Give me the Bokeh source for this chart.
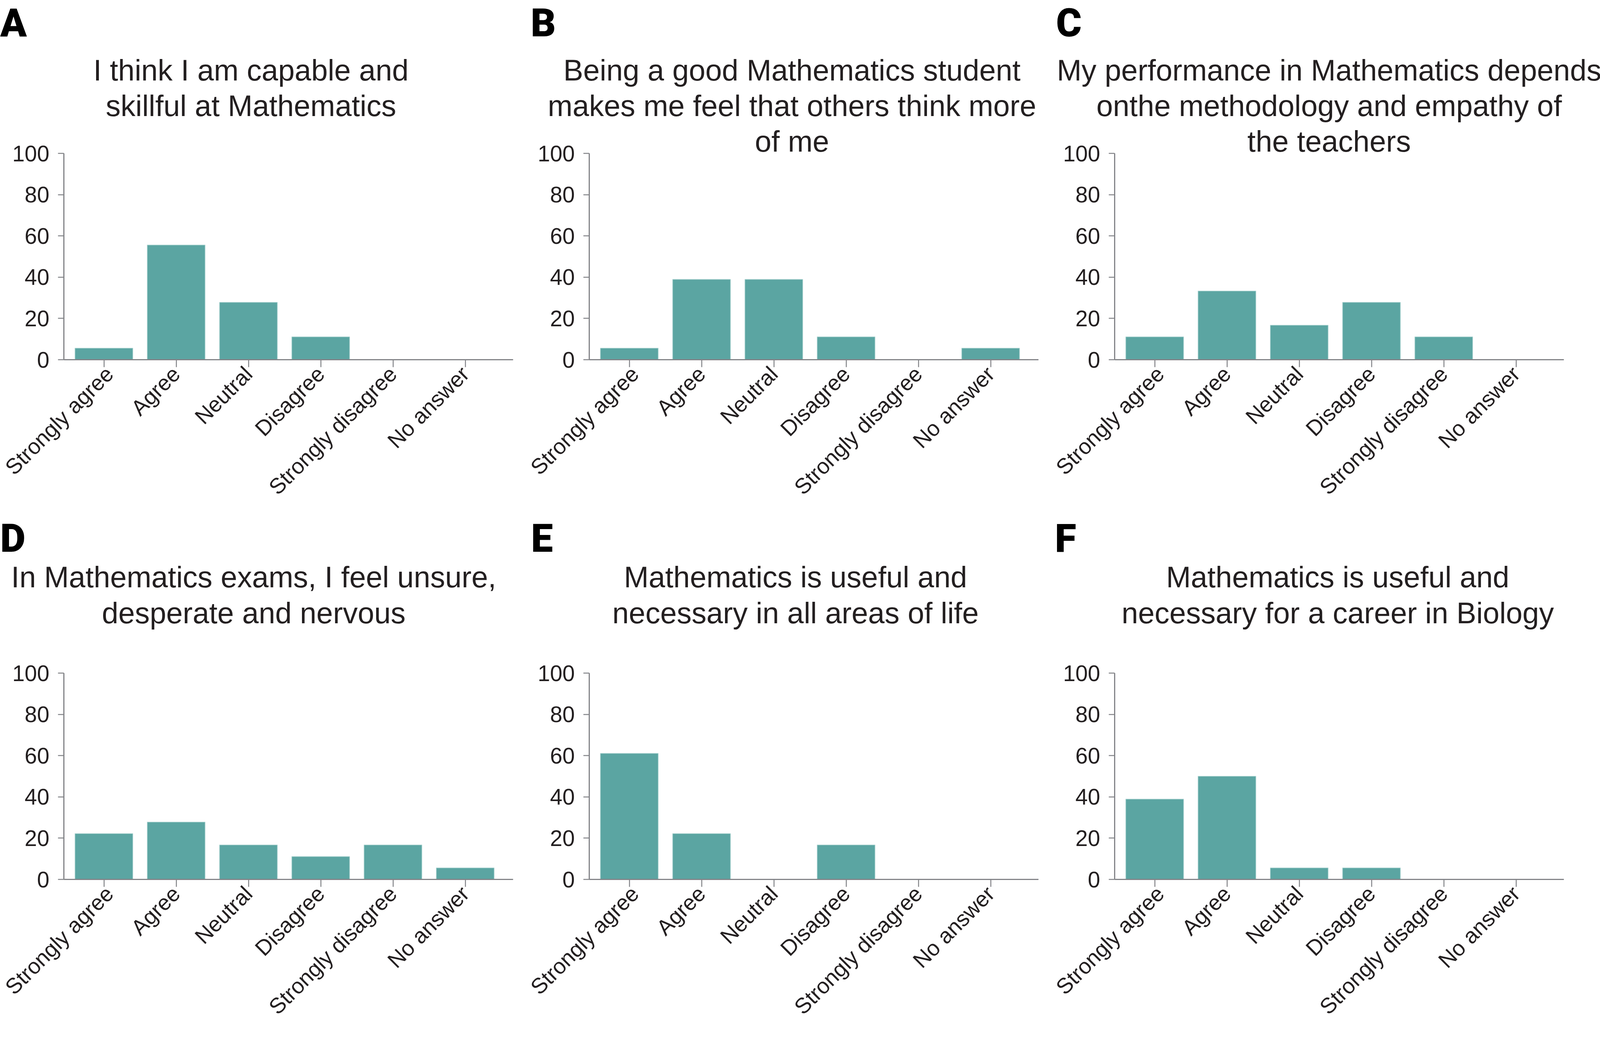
import math
import numpy as np
from bokeh.plotting import figure
from bokeh.models import Range1d, FixedTicker
from bokeh.layouts import column, row
from bokeh.core.properties import value
from bokeh.embed import file_html
from bokeh.resources import INLINE

# ---------------- data ----------------
categories = ["Strongly agree", "Agree", "Neutral", "Disagree", "Strongly disagree", "No answer"]
y_ticks = [0, 20, 40, 60, 80, 100]
letters = ["A", "B", "C", "D", "E", "F"]
titles = [
    ["I think I am capable and", "skillful at Mathematics"],
    ["Being a good Mathematics student", "makes me feel that others think more", "of me"],
    ["My performance in Mathematics depends", "onthe methodology and empathy of", "the teachers"],
    ["In Mathematics exams, I feel unsure,", "desperate and nervous"],
    ["Mathematics is useful and", "necessary in all areas of life"],
    ["Mathematics is useful and", "necessary for a career in Biology"],
]
values_a = [5.6, 55.6, 27.8, 11.1, 0.0, 0.0]
values_b = [5.6, 38.9, 38.9, 11.1, 0.0, 5.6]
values_c = [11.1, 33.3, 16.7, 27.8, 11.1, 0.0]
values_d = [22.2, 27.8, 16.7, 11.1, 16.7, 5.6]
values_e = [61.1, 22.2, 0.0, 16.7, 0.0, 0.0]
values_f = [38.9, 50.0, 5.6, 5.6, 0.0, 0.0]
all_values = [values_a, values_b, values_c, values_d, values_e, values_f]

# ---------------- style ----------------
BAR = "#5ba5a2"
EDGE = "#a9d2cf"
AXIS = "#838488"
TEXT = "#231f20"
FONT = "Liberation Sans"
HEAVY_FONT = "Roboto Black, Noto Sans ExtraBold, Open Sans ExtraBold, Lato Black, Liberation Sans"
TITLE_PX = 76
LETTER_PX = 100
BASE_SHIFT = 0.22   # bokeh draws "alphabetic" text this many em lower than asked

# ---------------- page geometry (px) ----------------
COL_X0 = [8, 1353, 2698]
COL_W = [1345, 1345, 1424]
MB_LEFT = 163
FRAME_W = 1150
CAT_PX = 185.0
PX_PER_UNIT = 5.28            # vertical px per 1 % on the y axis
XS = -0.5 - 10.0 / CAT_PX
XE = XS + FRAME_W / CAT_PX

# nominal row tops; "lag" = measured extra offset that the page adds before the row
ROWS = [
    dict(hdr_top=8, lag=0, main_top=321, y100=400, y0=928, bottom=1320),
    dict(hdr_top=1320, lag=11, main_top=1680, y100=1741, y0=2269, bottom=2656),
]
TITLE_BASE = [[204, 295, 386], [1512, 1604]]
TITLE_CX = [650, 2035, 3410, 657, 2044, 3432]
LETTER_X = [8, 1366, 2711, 8, 1367, 2708]
LETTER_BASE = [88, 1418]


def plain(p):
    p.grid.visible = False
    p.outline_line_color = None
    p.background_fill_color = "white"
    p.border_fill_color = "white"


def header(i_row, c):
    R = ROWS[i_row]
    w = COL_W[c]
    top = R["hdr_top"] + R["lag"]          # where the header really starts
    h = R["main_top"] - top
    p = figure(width=w, height=h, x_range=Range1d(0, w), y_range=Range1d(0, h),
               x_axis_location=None, y_axis_location=None, title=None,
               toolbar_location=None, output_backend="svg", min_border=0)
    plain(p)
    i = i_row * 3 + c
    x0 = COL_X0[c]
    xs, ys, ts = [], [], []
    for k, line in enumerate(titles[i]):
        base = TITLE_BASE[i_row][k] - BASE_SHIFT * TITLE_PX
        if TITLE_BASE[i_row][k] < R["main_top"]:
            xs.append(TITLE_CX[i] - x0)
            ys.append(h - (base - top))
            ts.append(line)
    p.text(x=xs, y=ys, text=ts, text_align="center", text_baseline="alphabetic",
           text_font=value(FONT), text_font_size=value(f"{TITLE_PX}px"), text_color=TEXT)
    lb = LETTER_BASE[i_row] - BASE_SHIFT * LETTER_PX
    p.text(x=[LETTER_X[i] - x0], y=[h - (lb - top)], text=[letters[i]],
           text_align="left", text_baseline="alphabetic", text_font=value(HEAVY_FONT),
           text_font_size=value(f"{LETTER_PX}px"), text_color="#000000")
    return p


def main(i_row, c):
    R = ROWS[i_row]
    i = i_row * 3 + c
    w = COL_W[c]
    h = R["bottom"] - R["main_top"]
    ytop = (R["y0"] - R["main_top"]) / PX_PER_UNIT
    p = figure(width=w, height=h, title=None,
               x_range=Range1d(XS, XE), y_range=Range1d(0, ytop),
               output_backend="svg", toolbar_location=None,
               min_border_left=MB_LEFT, min_border_right=w - MB_LEFT - FRAME_W,
               min_border_top=0, min_border_bottom=R["bottom"] - R["y0"])
    plain(p)
    xs = np.arange(len(categories))
    p.vbar(x=xs, top=all_values[i], bottom=0, width=0.8,
           fill_color=BAR, line_color=EDGE, line_width=1.5)

    frame_left_page = COL_X0[c] + MB_LEFT
    tx, ty, tt = [], [], []
    for k, line in enumerate(titles[i]):
        if TITLE_BASE[i_row][k] >= R["main_top"]:
            base = TITLE_BASE[i_row][k] - BASE_SHIFT * TITLE_PX
            tx.append(XS + (TITLE_CX[i] - frame_left_page) / CAT_PX)
            ty.append((R["y0"] - base) / PX_PER_UNIT)
            tt.append(line)
    if tt:
        p.text(x=tx, y=ty, text=tt, text_align="center", text_baseline="alphabetic",
               text_font=value(FONT), text_font_size=value(f"{TITLE_PX}px"), text_color=TEXT)

    p.xaxis.ticker = FixedTicker(ticks=[int(v) for v in xs])
    p.xaxis.major_label_overrides = {int(k): name for k, name in zip(xs, categories)}
    p.xaxis.major_label_orientation = math.pi / 4
    p.xaxis.major_tick_out = 19
    p.xaxis.major_label_standoff = 8
    p.xaxis.major_label_text_font_size = "56px"

    p.yaxis.ticker = FixedTicker(ticks=y_ticks)
    p.yaxis.bounds = (0, 100)
    p.yaxis.major_tick_out = 15
    p.yaxis.major_label_standoff = 22
    p.yaxis.major_label_text_font_size = "57px"

    for ax in (p.xaxis[0], p.yaxis[0]):
        ax.axis_line_color = AXIS
        ax.axis_line_width = 3
        ax.major_tick_line_color = AXIS
        ax.major_tick_line_width = 2.5
        ax.major_tick_in = 0
        ax.minor_tick_line_color = None
        ax.major_label_text_font = FONT
        ax.major_label_text_color = TEXT
    return p


layout = column(
    row(*[header(0, c) for c in range(3)]),
    row(*[main(0, c) for c in range(3)]),
    row(*[header(1, c) for c in range(3)]),
    row(*[main(1, c) for c in range(3)]),
)

open("out.html", "w").write(file_html(layout, INLINE, "Survey"))
